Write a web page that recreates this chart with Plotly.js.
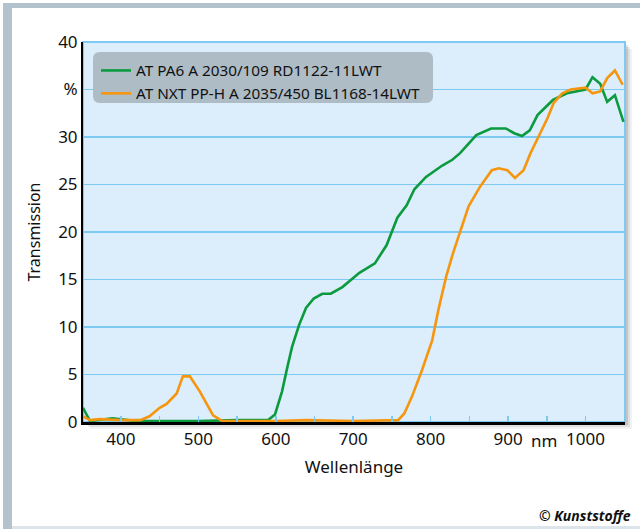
<!DOCTYPE html>
<html><head><meta charset="utf-8">
<script src="https://cdn.plot.ly/plotly-3.0.1.min.js"></script>
<style>body{margin:0;background:#fff}#chart{width:640px;height:529px}</style>
</head><body><div id="chart"></div>
<script>
// ---- data ----
const seriesNames = ['AT PA6 A 2030/109 RD1122-11LWT', 'AT NXT PP-H A 2035/450 BL1168-14LWT'];
const pa6Wavelength = [351, 360, 389, 400, 420, 450, 500, 550, 590, 599, 608, 615, 621, 630, 639, 649, 660, 671, 686, 708, 728, 743, 757, 769, 779, 794, 815, 828, 838, 859, 878, 897, 908, 918, 928, 938, 958, 976, 989, 1000, 1009, 1019, 1028, 1038, 1049];
const pa6Transmission = [1.5, 0.1, 0.4, 0.3, 0.1, 0.1, 0.1, 0.2, 0.2, 0.8, 3.2, 5.8, 7.9, 10.2, 12.0, 13.0, 13.5, 13.5, 14.2, 15.7, 16.7, 18.6, 21.5, 22.8, 24.5, 25.8, 27.0, 27.6, 28.3, 30.2, 30.9, 30.9, 30.4, 30.1, 30.7, 32.3, 33.9, 34.6, 34.8, 35.0, 36.3, 35.6, 33.7, 34.4, 31.6];
const ppWavelength = [351, 360, 373, 399, 425, 437, 450, 459, 472, 480, 489, 502, 519, 531, 600, 640, 700, 758, 766, 776, 789, 802, 810, 820, 829, 838, 849, 864, 879, 888, 899, 909, 920, 929, 939, 951, 959, 970, 981, 1000, 1009, 1019, 1028, 1038, 1048];
const ppTransmission = [0.6, 0.2, 0.3, 0.2, 0.2, 0.6, 1.5, 1.9, 3.0, 4.8, 4.8, 3.2, 0.7, 0.1, 0.1, 0.2, 0.1, 0.2, 0.9, 2.7, 5.5, 8.6, 11.8, 15.3, 17.8, 20.0, 22.7, 24.8, 26.5, 26.7, 26.5, 25.7, 26.5, 28.3, 30.0, 32.0, 33.6, 34.6, 35.0, 35.2, 34.6, 34.8, 36.2, 37.0, 35.5];
const yTickVals = [0, 5, 10, 15, 20, 25, 30, 35, 40];
const yTickText = ['0', '5', '10', '15', '20', '25', '30', '%', '40'];

// ---- geometry helpers (pixel -> paper) ----
const L = 83, R = 625, T = 42, B = 422;
const W = R - L, H = B - T;
const px = x => (x - L) / W, py = y => (B - y) / H;
function rect(x0, y0, x1, y1, o) {
  return Object.assign({type: 'rect', xref: 'paper', yref: 'paper', layer: 'below',
    x0: px(x0), x1: px(x1), y0: py(y1), y1: py(y0), line: {width: 0}}, o);
}
function rounded(x0, y0, x1, y1, r) {
  const P = (x, y) => px(x).toFixed(5) + ',' + py(y).toFixed(5);
  return `M${P(x0 + r, y0)} L${P(x1 - r, y0)} Q${P(x1, y0)} ${P(x1, y0 + r)} L${P(x1, y1 - r)} Q${P(x1, y1)} ${P(x1 - r, y1)} L${P(x0 + r, y1)} Q${P(x0, y1)} ${P(x0, y1 - r)} L${P(x0, y0 + r)} Q${P(x0, y0)} ${P(x0 + r, y0)} Z`;
}

const FONT = 'Noto Sans, Open Sans, sans-serif';
const gridBlue = '#7ccaf1';

const traces = [
  {x: pa6Wavelength, y: pa6Transmission, name: seriesNames[0], type: 'scatter', mode: 'lines',
   line: {color: '#0b9a3e', width: 2.6}},
  {x: ppWavelength, y: ppTransmission, name: seriesNames[1], type: 'scatter', mode: 'lines',
   line: {color: '#f5960e', width: 2.6}}
];

const shapes = [
  // outer frame
  rect(3, 3, 12, 529, {fillcolor: '#b3c3cd'}),
  rect(3, 3, 640, 8, {fillcolor: '#b3c3cd'}),
  rect(12, 526, 640, 529, {fillcolor: '#dde5ea'}),
  // drop shadow of plot area
  rect(L + 7, T + 7, R + 7, B + 7, {fillcolor: 'rgba(0,0,0,0.05)'}),
  rect(L + 5, T + 5, R + 5, B + 5, {fillcolor: 'rgba(0,0,0,0.08)'}),
  rect(L + 3, T + 3, R + 3, B + 3, {fillcolor: 'rgba(0,0,0,0.12)'}),
  // plot background with light blue border
  rect(L, T, R, B, {fillcolor: '#dcedfb', line: {color: gridBlue, width: 2}}),
  // legend box
  {type: 'path', xref: 'paper', yref: 'paper', layer: 'above', path: rounded(93, 52, 433, 103, 7),
   fillcolor: '#adbcc5', line: {width: 0}}
];

const layout = {
  width: 640, height: 529,
  margin: {l: L, r: 640 - R, t: T, b: 529 - B},
  paper_bgcolor: '#ffffff', plot_bgcolor: 'rgba(0,0,0,0)',
  font: {family: FONT, color: '#111', size: 17},
  showlegend: true,
  legend: {x: px(96), y: py(54), xanchor: 'left', yanchor: 'top', bgcolor: 'rgba(0,0,0,0)',
    font: {size: 15.3, family: FONT, color: '#111'}, tracegroupgap: 0},
  xaxis: {range: [351, 1051], tick0: 0, dtick: 100, ticks: 'inside', ticklen: 6, tickwidth: 1.5,
    tickcolor: gridBlue, minor: {dtick: 50, tick0: 0, ticks: 'inside', ticklen: 6, tickwidth: 1.5, tickcolor: gridBlue},
    showline: true, linecolor: '#000', linewidth: 3, showgrid: false, zeroline: false,
    tickfont: {size: 17}, title: {text: 'Wellenlänge', font: {size: 17}, standoff: 12}},
  yaxis: {range: [0, 40], tickvals: yTickVals, ticktext: yTickText, ticks: '',
    showline: true, linecolor: '#000', linewidth: 2, showgrid: true, gridcolor: gridBlue, gridwidth: 1.5,
    zeroline: false, tickfont: {size: 17}, title: {text: 'Transmission', font: {size: 16}, standoff: 14}},
  shapes: shapes,
  annotations: [
    {xref: 'paper', yref: 'paper', x: px(544), y: py(440), text: 'nm', showarrow: false,
     xanchor: 'center', yanchor: 'middle', font: {size: 17, family: FONT}},
    {xref: 'paper', yref: 'paper', x: px(633), y: py(515), text: '<b><i>© Kunststoffe</i></b>', showarrow: false,
     xanchor: 'right', yanchor: 'middle', font: {size: 14, family: FONT}}
  ]
};

Plotly.newPlot('chart', traces, layout, {displayModeBar: false, staticPlot: true});
</script>
</body></html>
